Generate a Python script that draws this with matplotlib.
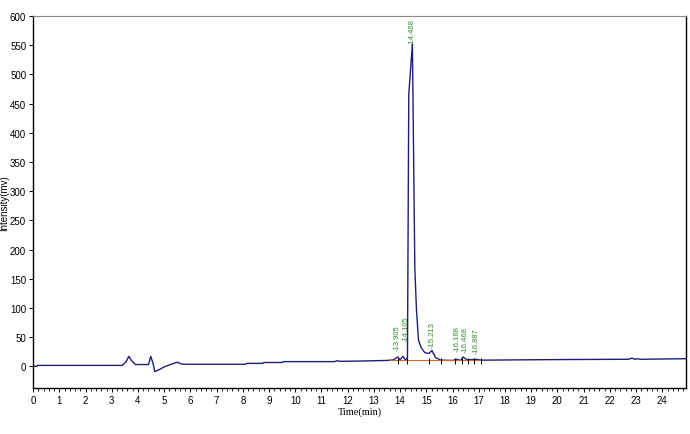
import numpy as np
import matplotlib
matplotlib.use("Agg")
import matplotlib.pyplot as plt
from matplotlib.ticker import MultipleLocator

# chromatogram trace (min, mV)
time = [0, 0.15, 0.17, 3.4, 3.55, 3.65, 3.75, 3.9, 4.4, 4.49, 4.58, 4.64, 4.8, 5.0,
        5.3, 5.5, 5.65, 5.8, 8.1, 8.15, 8.75, 8.8, 9.5, 9.55, 11.5, 11.6, 11.7,
        12.5, 13.5, 13.75, 13.905, 14.0, 14.105, 14.2, 14.28, 14.33, 14.468, 14.5,
        14.56, 14.62, 14.7, 14.8, 14.95, 15.1, 15.213, 15.35, 15.55, 16.0, 16.168,
        16.3, 16.4, 16.55, 16.887, 17.1, 20.0, 22.7, 22.85, 22.95, 23.05, 23.15, 24.9]
signal = [0, 0, 1.5, 1.5, 8, 17, 10, 3, 3, 17, 4, -9, -6, -1,
          4, 7, 4, 3.5, 3.5, 5, 5, 6.5, 6.5, 8, 8, 9.5, 8.5,
          9, 10, 11, 16, 11, 17, 11, 14, 465, 552, 420,
          170, 100, 45, 32, 23, 22, 27, 15, 10.5, 10, 12,
          10, 16, 11, 12, 10.5, 11.5, 12, 14, 12, 13, 12, 13]

peak_rt = [13.905, 14.105, 14.468, 15.213, 16.168, 16.468, 16.887]
peak_lift = [12, 27, 0, 6, 14, 10, 10]
peak_ha = ["center", "left", "center", "center", "center", "center", "center"]
bounds = [13.9, 14.25, 15.1, 15.55, 16.08, 16.35, 16.6, 16.8, 17.07]

fig = plt.figure(figsize=(6.9, 4.35), dpi=100)
ax = fig.add_axes([0.048, 0.106, 0.946, 0.855])

ax.plot(time, signal, color="#1e1e78", lw=1.0)

# integration baseline and peak boundary marks
ax.plot([13.6, 17.1], [10, 10], color="#d2691e", lw=0.8)
ax.vlines(bounds, 4, 15, color="black", lw=0.7)

for rt, lift, ha in zip(peak_rt, peak_lift, peak_ha):
    y = np.interp(rt, time, signal) + lift
    ax.text(rt, y, "-" + f"{rt:.3f}", rotation=90, ha=ha, va="bottom",
            fontsize=5.5, color="#2e8b2e", family="Liberation Sans")

ax.set_xlim(0, 24.9)
ax.set_ylim(-37, 600)
ax.xaxis.set_major_locator(MultipleLocator(1))
ax.xaxis.set_minor_locator(MultipleLocator(0.2))
ax.yaxis.set_major_locator(MultipleLocator(50))
ax.tick_params(axis="both", labelsize=7, length=3, width=0.7, pad=2)
ax.tick_params(axis="x", which="minor", length=2, width=0.6)
for lab in ax.get_xticklabels() + ax.get_yticklabels():
    lab.set_family("Liberation Sans")

ax.set_xlabel("Time(min)", fontsize=7.5, family="Liberation Serif", labelpad=1)
ax.set_ylabel("Intensity(mv)", fontsize=7, family="Liberation Sans")
ax.yaxis.set_label_coords(-0.036, 0.5)

for s in ["left", "bottom", "right"]:
    ax.spines[s].set_linewidth(1.0)
ax.spines["top"].set_color("#888888")

fig.savefig("out.png", dpi=100)
